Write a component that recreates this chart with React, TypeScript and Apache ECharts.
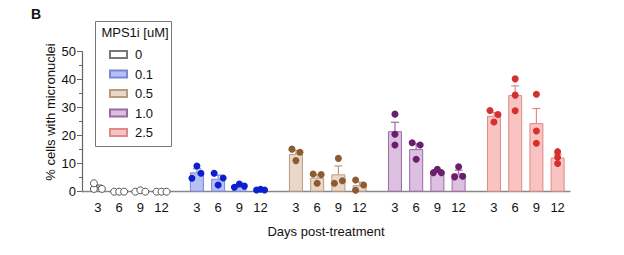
import React, { useEffect, useRef } from "react";
import * as echarts from "echarts";

const days = ["3", "6", "9", "12"];
const doses = ["0", "0.1", "0.5", "1.0", "2.5"];

// individual replicate values per dose, per day (3 replicates each)
const pts0 = [[1.0, 3.0, 1.0], [0, 0, 0], [0, 0.5, 0], [0, 0, 0]];
const pts01 = [[4.8, 9.2, 6.6], [6.6, 2.4, 4.9], [1.6, 2.75, 2.0], [0.6, 0.9, 0.6]];
const pts05 = [[15.2, 11.1, 14.1], [6.3, 3.0, 6.1], [3.0, 11.9, 3.9], [4.2, 0.5, 2.4]];
const pts10 = [[27.7, 20.5, 16.7], [17.5, 11.6, 16.7], [6.8, 8.0, 6.8], [5.3, 8.9, 5.5]];
const pts25 = [[29.0, 24.9, 27.6], [40.3, 34.5, 28.9], [34.8, 21.7, 17.3], [14.3, 12.3, 10.1]];

// bar means and SEM
const mean0 = [1.7, 0, 0.2, 0];
const mean01 = [6.9, 4.6, 2.1, 0.7];
const mean05 = [13.5, 5.0, 6.2, 2.3];
const mean10 = [21.6, 15.2, 7.0, 6.5];
const mean25 = [27.1, 34.5, 24.5, 12.2];
const sem0 = [0.7, 0, 0.2, 0];
const sem01 = [1.3, 1.3, 0.35, 0.1];
const sem05 = [1.2, 1.1, 3.0, 1.1];
const sem10 = [3.2, 1.9, 0.4, 1.2];
const sem25 = [1.2, 3.3, 5.2, 1.2];

const yTicks = [0, 10, 20, 30, 40, 50];

// styling (not data)
const jitter = [
  [[-4, -4, 4], [-5, 0, 5], [-5, 0, 5], [-5, 0, 5]],
  [[-5, 0, 4], [-4, 0, 5], [-5, 0, 5], [-4, 0, 4]],
  [[-4, 0, 4], [-4, 0, 4], [-4, 0, 4], [-4, -4, 4]],
  [[0, 0, 0], [-4, 0, 4], [-4, 0, 4], [-4, 0, 4]],
  [[-4, 0, 4], [0, 0, 0], [0, 0, 0], [0, 0, 0]],
];
const barFill = ["#ffffff", "#b6c0f4", "#e9d8c8", "#dcc0e0", "#f8c3c0"];
const barBorder = ["#777777", "#7b87d6", "#b89a80", "#9a6aa3", "#dd8a88"];
const ptFill = ["#ffffff", "#0b1fd0", "#8d5b30", "#6b1d6e", "#d3302e"];
const ptBorder = ["#555555", "#0b1fd0", "#8d5b30", "#6b1d6e", "#d3302e"];

const allPts = [pts0, pts01, pts05, pts10, pts25];
const allMean = [mean0, mean01, mean05, mean10, mean25];
const allSem = [sem0, sem01, sem05, sem10, sem25];

// category layout: slots of 6 units per bar, 28 units per dose group
const LEAD = 4;
const TRAIL = 3;
const DAY_STEP = 6;
const GROUP_STEP = 28;
const N = LEAD + (doses.length - 1) * GROUP_STEP + (days.length - 1) * DAY_STEP + 1 + TRAIL;
const idxOf = (g: number, d: number) => LEAD + g * GROUP_STEP + d * DAY_STEP;

const FONT = "Liberation Sans, Arial, sans-serif";

export default function App() {
  const ref = useRef<HTMLDivElement>(null);
  useEffect(() => {
    if (!ref.current) return;
    const chart = echarts.init(ref.current, null, { renderer: "svg" });

    const cats: string[] = [];
    const labelMap: Record<string, string> = {};
    for (let i = 0; i < N; i++) cats.push("c" + i);
    doses.forEach((_, g) =>
      days.forEach((day, d) => {
        labelMap["c" + idxOf(g, d)] = day;
      })
    );
    const isBar = (i: number) => labelMap["c" + i] !== undefined;

    const series: any[] = [];
    doses.forEach((dose, g) => {
      const data: (number | null)[] = new Array(N).fill(null);
      days.forEach((_, d) => {
        data[idxOf(g, d)] = allMean[g][d];
      });
      series.push({
        name: dose,
        type: "bar",
        data,
        barWidth: 14,
        barGap: "-100%",
        itemStyle: { color: barFill[g], borderColor: barBorder[g], borderWidth: 1 },
        z: 2,
      });
    });
    doses.forEach((dose, g) => {
      const data: any[] = [];
      days.forEach((_, d) => {
        if (allSem[g][d] > 0)
          data.push([idxOf(g, d), allMean[g][d], allMean[g][d] + allSem[g][d]]);
      });
      series.push({
        name: "err-" + dose,
        type: "custom",
        data,
        encode: { x: 0, y: [1, 2] },
        z: 3,
        renderItem: (params: any, api: any) => {
          const b = api.coord([api.value(0), api.value(1)]);
          const t = api.coord([api.value(0), api.value(2)]);
          const st = { stroke: barBorder[g], lineWidth: 1.2 };
          return {
            type: "group",
            children: [
              { type: "line", shape: { x1: b[0], y1: b[1], x2: b[0], y2: t[1] }, style: st },
              { type: "line", shape: { x1: b[0] - 4, y1: t[1], x2: b[0] + 4, y2: t[1] }, style: st },
            ],
          };
        },
      });
    });
    doses.forEach((dose, g) => {
      const data: any[] = [];
      days.forEach((_, d) => {
        allPts[g][d].forEach((v, k) => {
          data.push({ value: [idxOf(g, d), v], symbolOffset: [jitter[g][d][k], 0] });
        });
      });
      series.push({
        name: "pts-" + dose,
        type: "scatter",
        data,
        symbol: "circle",
        symbolSize: 7,
        itemStyle: { color: ptFill[g], borderColor: ptBorder[g], borderWidth: g === 0 ? 1 : 0, opacity: 1 },
        z: 4,
      });
    });

    chart.setOption({
      animation: false,
      textStyle: { fontFamily: FONT },
      grid: { left: 82, right: 54, top: 51.7, bottom: 63.3, containLabel: false },
      legend: {
        data: doses,
        orient: "vertical",
        left: 104,
        top: 43,
        itemWidth: 17,
        itemHeight: 7,
        itemGap: 6.5,
        icon: "rect",
        selectedMode: false,
        textStyle: { fontSize: 13, color: "#111", fontFamily: FONT, padding: [0, 0, 0, 3] },
      },
      xAxis: {
        type: "category",
        data: cats,
        boundaryGap: true,
        axisLine: { lineStyle: { color: "#888", width: 1.3 } },
        axisTick: {
          alignWithLabel: true,
          interval: (i: number) => isBar(i),
          length: 5,
          lineStyle: { color: "#888", width: 1 },
        },
        axisLabel: {
          interval: (i: number) => isBar(i),
          formatter: (v: string) => labelMap[v] || "",
          margin: 9,
          fontSize: 13,
          color: "#111",
          fontFamily: FONT,
        },
        name: "Days post-treatment",
        nameLocation: "middle",
        nameGap: 33,
        nameTextStyle: { fontSize: 13, color: "#111", fontFamily: FONT },
      },
      yAxis: {
        type: "value",
        min: yTicks[0],
        max: yTicks[yTicks.length - 1],
        interval: yTicks[1] - yTicks[0],
        splitLine: { show: false },
        axisLine: { show: true, lineStyle: { color: "#666", width: 1.2 } },
        axisTick: { show: true, length: 5, lineStyle: { color: "#666" } },
        minorTick: { show: true, splitNumber: 2, length: 3, lineStyle: { color: "#666" } },
        axisLabel: { fontSize: 13, color: "#111", margin: 6, fontFamily: FONT },
      },
      graphic: [
        {
          type: "text",
          left: 31,
          top: 7,
          style: { text: "B", font: "bold 14px " + FONT, fill: "#111" },
        },
        {
          type: "text",
          x: 50,
          y: 112,
          rotation: Math.PI / 2,
          style: {
            text: "% cells with micronuclei",
            font: "13px " + FONT,
            fill: "#111",
            textAlign: "center",
            textVerticalAlign: "middle",
          },
        },
        {
          type: "rect",
          shape: { x: 95.5, y: 21.5, width: 76, height: 125 },
          style: { fill: "none", stroke: "#777", lineWidth: 1 },
        },
        {
          type: "text",
          x: 135,
          y: 32.5,
          style: {
            text: "MPS1i [uM]",
            font: "13px " + FONT,
            fill: "#111",
            textAlign: "center",
            textVerticalAlign: "middle",
          },
        },
      ],
      series,
    });
    return () => chart.dispose();
  }, []);
  return <div ref={ref} style={{ width: 624, height: 255, margin: -8 }} />;
}
